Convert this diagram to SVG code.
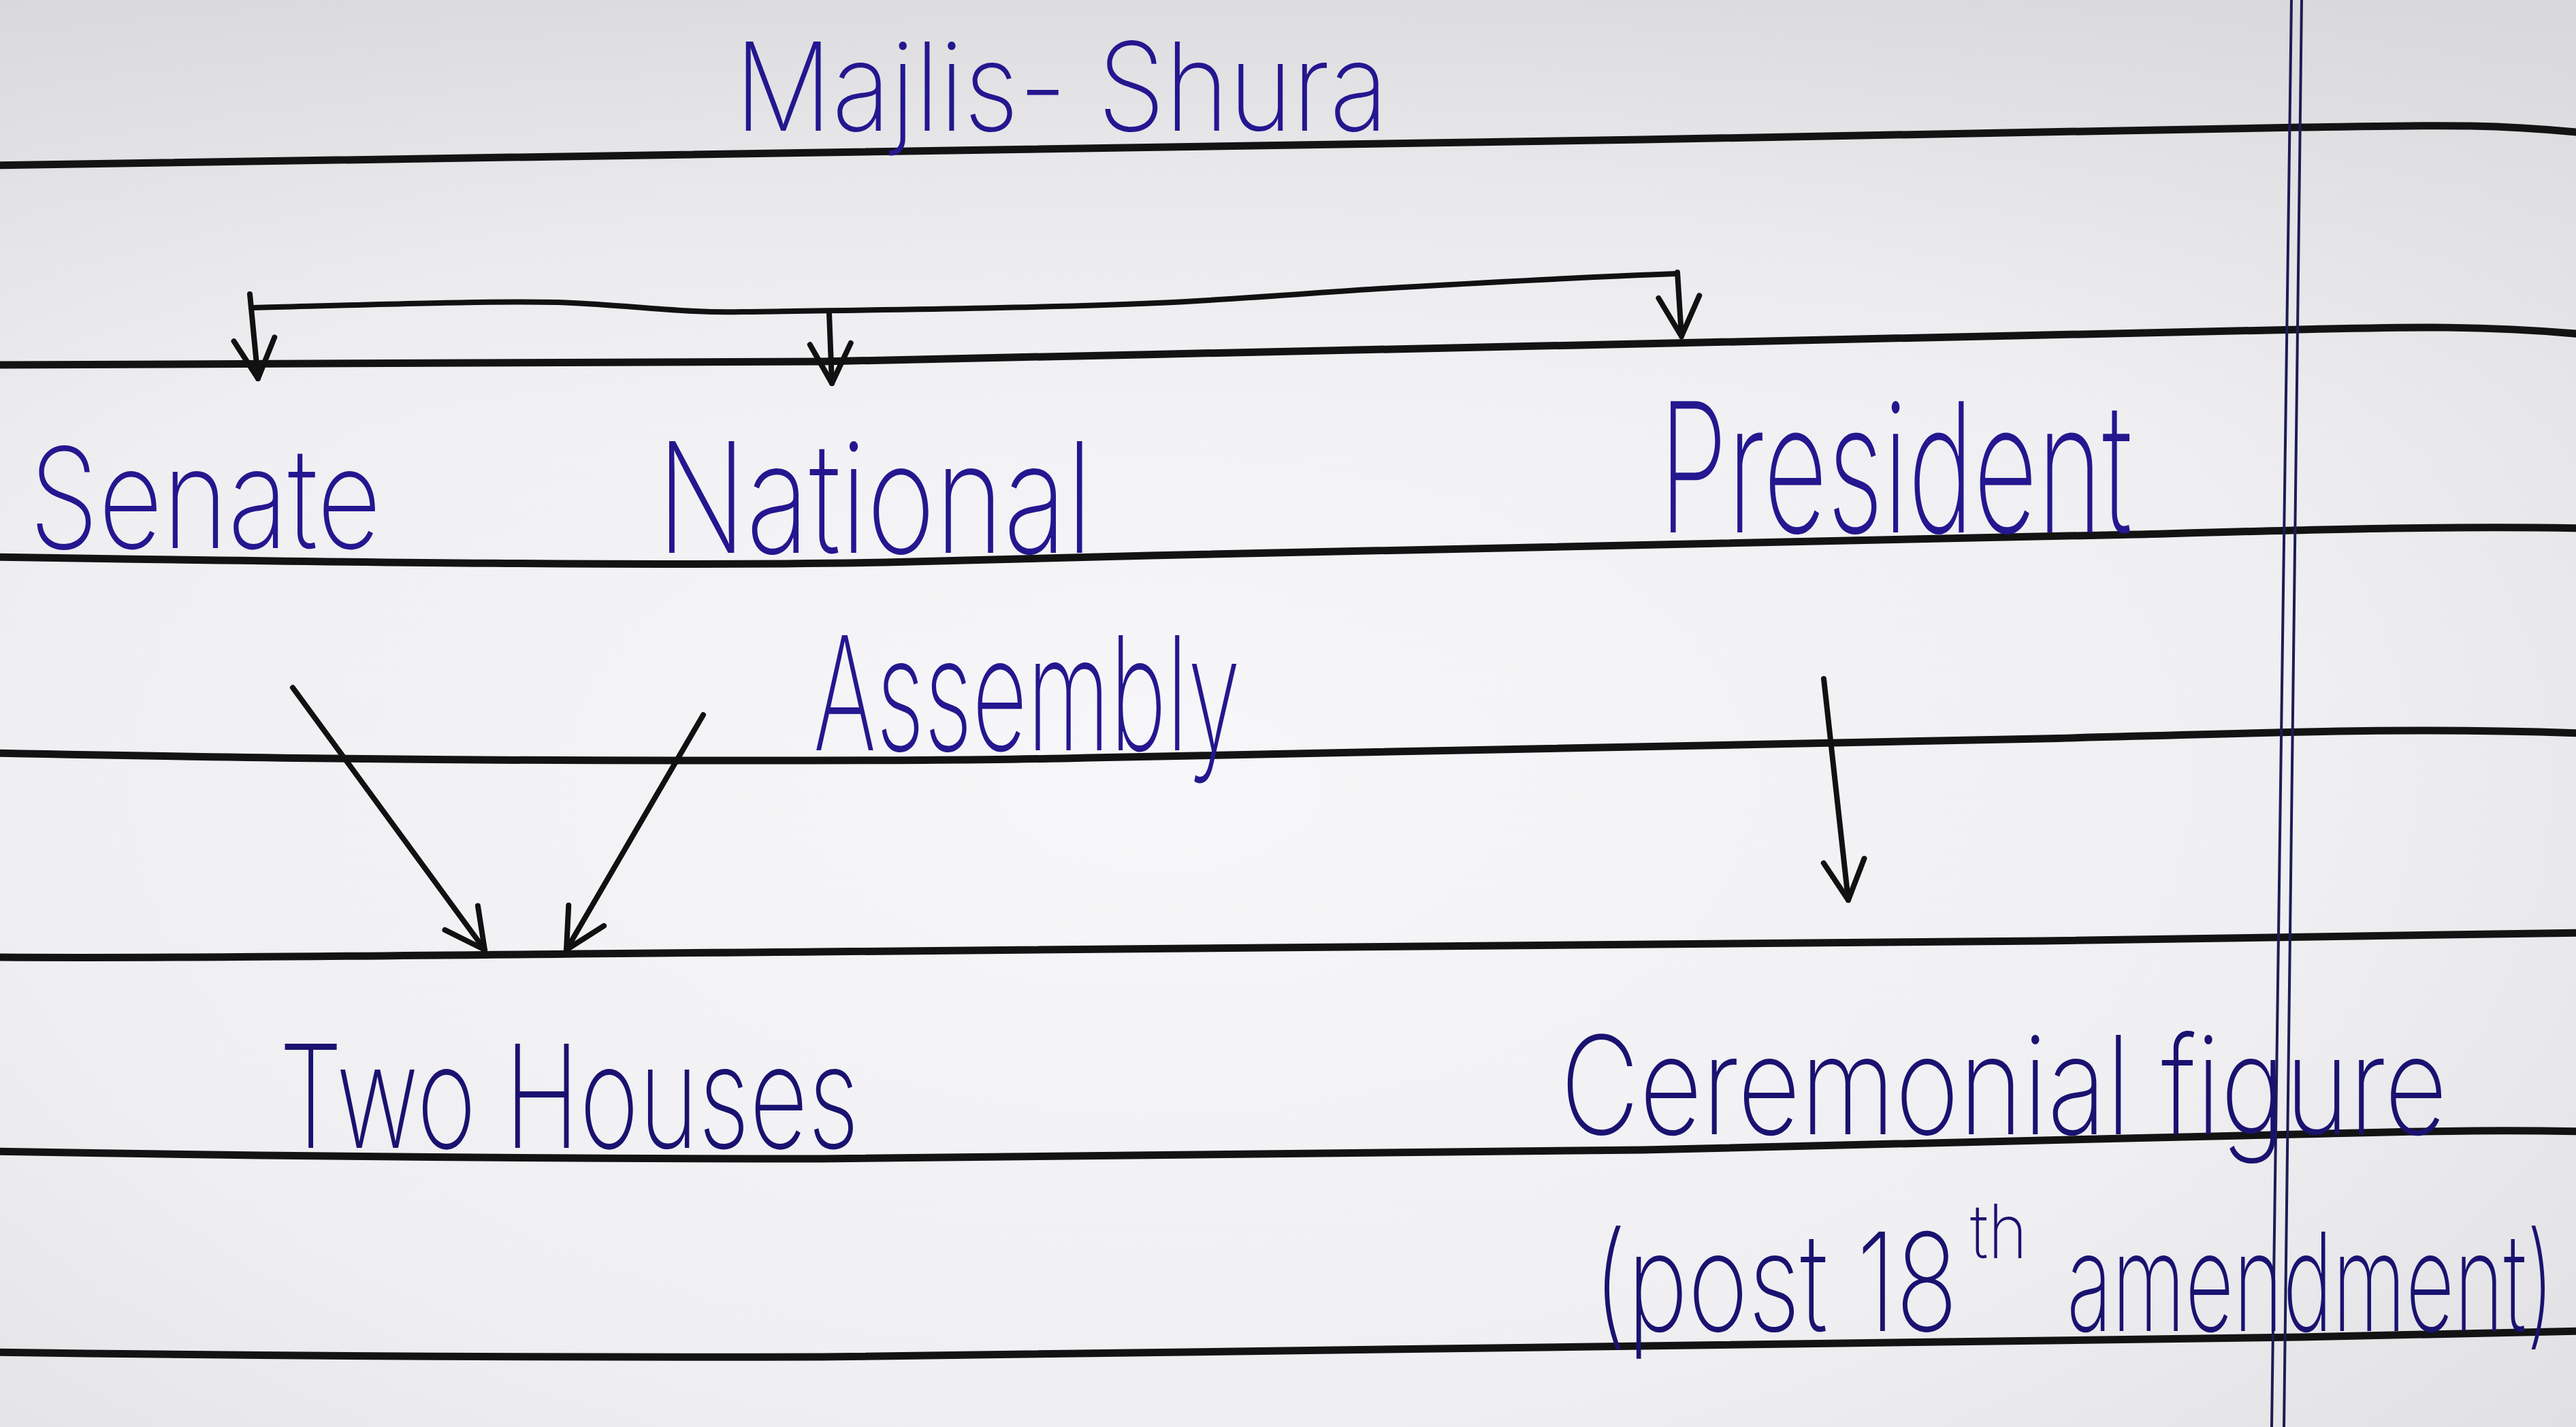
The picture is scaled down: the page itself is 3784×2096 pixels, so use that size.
<svg xmlns="http://www.w3.org/2000/svg" width="3784" height="2096" viewBox="0 0 3784 2096">
<defs>
<radialGradient id="paper" cx="0.45" cy="0.55" r="0.75">
<stop offset="0" stop-color="#f7f6f8"/>
<stop offset="0.6" stop-color="#efeef1"/>
<stop offset="1" stop-color="#dedde0"/>
</radialGradient>
<linearGradient id="shade" x1="0" y1="0" x2="0" y2="1">
<stop offset="0" stop-color="#d4d4d6" stop-opacity="0.6"/>
<stop offset="0.3" stop-color="#e6e6e8" stop-opacity="0"/>
</linearGradient>
<marker id="arr" markerUnits="userSpaceOnUse" markerWidth="140" markerHeight="140" viewBox="-70 -70 140 140" refX="0" refY="0" orient="auto" overflow="visible">
<path d="M -58,-30 L 0,0 L -58,30" fill="none" stroke="#111" stroke-width="8" stroke-linecap="round" stroke-linejoin="round"/>
</marker>
</defs>
<style>
.ink{font-family:Inter,Roboto,Lato,"Liberation Sans",sans-serif;font-weight:200;fill:#24178f;}
.ink2{font-family:Inter,Roboto,Lato,"Liberation Sans",sans-serif;font-weight:200;fill:#1a1270;}
.rule{fill:none;stroke:#131313;stroke-width:11;stroke-linecap:round;}
.margin{fill:none;stroke:#1c1c55;stroke-width:4;}
.conn{fill:none;stroke:#111;stroke-width:8;stroke-linecap:round;stroke-linejoin:round;}
</style>
<rect x="0" y="0" width="3784" height="2096" fill="url(#paper)"/>
<rect x="0" y="0" width="3784" height="2096" fill="url(#shade)"/>
<g id="paper-lines">
<path class="rule" d="M -10,243 C 600,230 1400,215 2413,205 C 2900,195 3200,188 3378,187 C 3560,185 3640,180 3794,195"/>
<path class="rule" d="M -10,536 C 500,533 900,533 1207,531 C 2000,515 2900,490 3378,484 C 3550,480 3650,478 3794,491"/>
<path class="rule" d="M -10,818 C 500,826 1000,832 1300,826 C 1500,822 1600,818 1689,816 C 2300,800 2900,790 3137,785 C 3400,778 3600,772 3794,776"/>
<path class="rule" d="M -10,1106 C 300,1112 600,1117 1000,1117 C 1300,1117 1448,1117 1600,1113 C 2200,1100 2654,1093 3000,1085 C 3378,1075 3550,1068 3794,1077"/>
<path class="rule" d="M -10,1406 C 300,1408 700,1402 1200,1398 C 2000,1392 2600,1388 3000,1382 C 3400,1378 3600,1372 3794,1370"/>
<path class="rule" d="M -10,1691 C 500,1700 900,1702 1207,1702 C 1800,1698 2300,1690 2413,1689 C 2900,1678 3200,1670 3378,1666 C 3600,1660 3700,1660 3794,1662"/>
<path class="rule" d="M -10,1986 C 500,1993 900,1994 1207,1993 C 1800,1985 2300,1978 2413,1977 C 2900,1970 3200,1966 3378,1964 C 3600,1960 3700,1956 3794,1955"/>
<path class="margin" d="M 3366,0 L 3337,2096"/>
<path class="margin" d="M 3381,0 L 3355,2096"/>
</g>
<g id="connectors">
<path class="conn" d="M 372,452 C 600,446 780,440 860,446 C 960,452 1020,460 1090,458 C 1300,455 1550,452 1700,445 C 1850,438 1950,428 2060,422 C 2200,414 2350,406 2462,402"/>
<path class="conn" marker-end="url(#arr)" d="M 367,432 L 379,556"/>
<path class="conn" marker-end="url(#arr)" d="M 1218,460 L 1222,563"/>
<path class="conn" marker-end="url(#arr)" d="M 2464,400 L 2470,494"/>
<path class="conn" marker-end="url(#arr)" d="M 430,1010 L 712,1395"/>
<path class="conn" marker-end="url(#arr)" d="M 1033,1050 L 832,1395"/>
<path class="conn" marker-end="url(#arr)" d="M 2679,997 L 2715,1322"/>
</g>
<g id="node-majlis-shura">
<text class="ink" x="1079" y="192" font-size="180" textLength="960" lengthAdjust="spacingAndGlyphs">Majlis- Shura</text>
</g>
<g id="node-senate">
<text class="ink" x="43" y="805" font-size="205" textLength="517" lengthAdjust="spacingAndGlyphs">Senate</text>
</g>
<g id="node-national-assembly">
<text class="ink" x="965" y="812" font-size="225" textLength="640" lengthAdjust="spacingAndGlyphs">National</text>
<text class="ink" x="1195" y="1102" font-size="232" textLength="627" lengthAdjust="spacingAndGlyphs">Assembly</text>
</g>
<g id="node-president">
<text class="ink" x="2437" y="782" font-size="265" textLength="695" lengthAdjust="spacingAndGlyphs">President</text>
</g>
<g id="node-two-houses">
<text class="ink2" x="410" y="1686" font-size="210" textLength="852" lengthAdjust="spacingAndGlyphs">Two Houses</text>
</g>
<g id="node-ceremonial-figure">
<text class="ink2" x="2292" y="1666" font-size="200" textLength="1303" lengthAdjust="spacingAndGlyphs">Ceremonial figure</text>
<text class="ink2" x="2340" y="1955" font-size="200" textLength="536" lengthAdjust="spacingAndGlyphs">(post 18</text>
<text class="ink2" x="2894" y="1848" font-size="110" textLength="84" lengthAdjust="spacingAndGlyphs">th</text>
<text class="ink2" x="3036" y="1955" font-size="200" textLength="716" lengthAdjust="spacingAndGlyphs">amendment)</text>
</g>
</svg>
